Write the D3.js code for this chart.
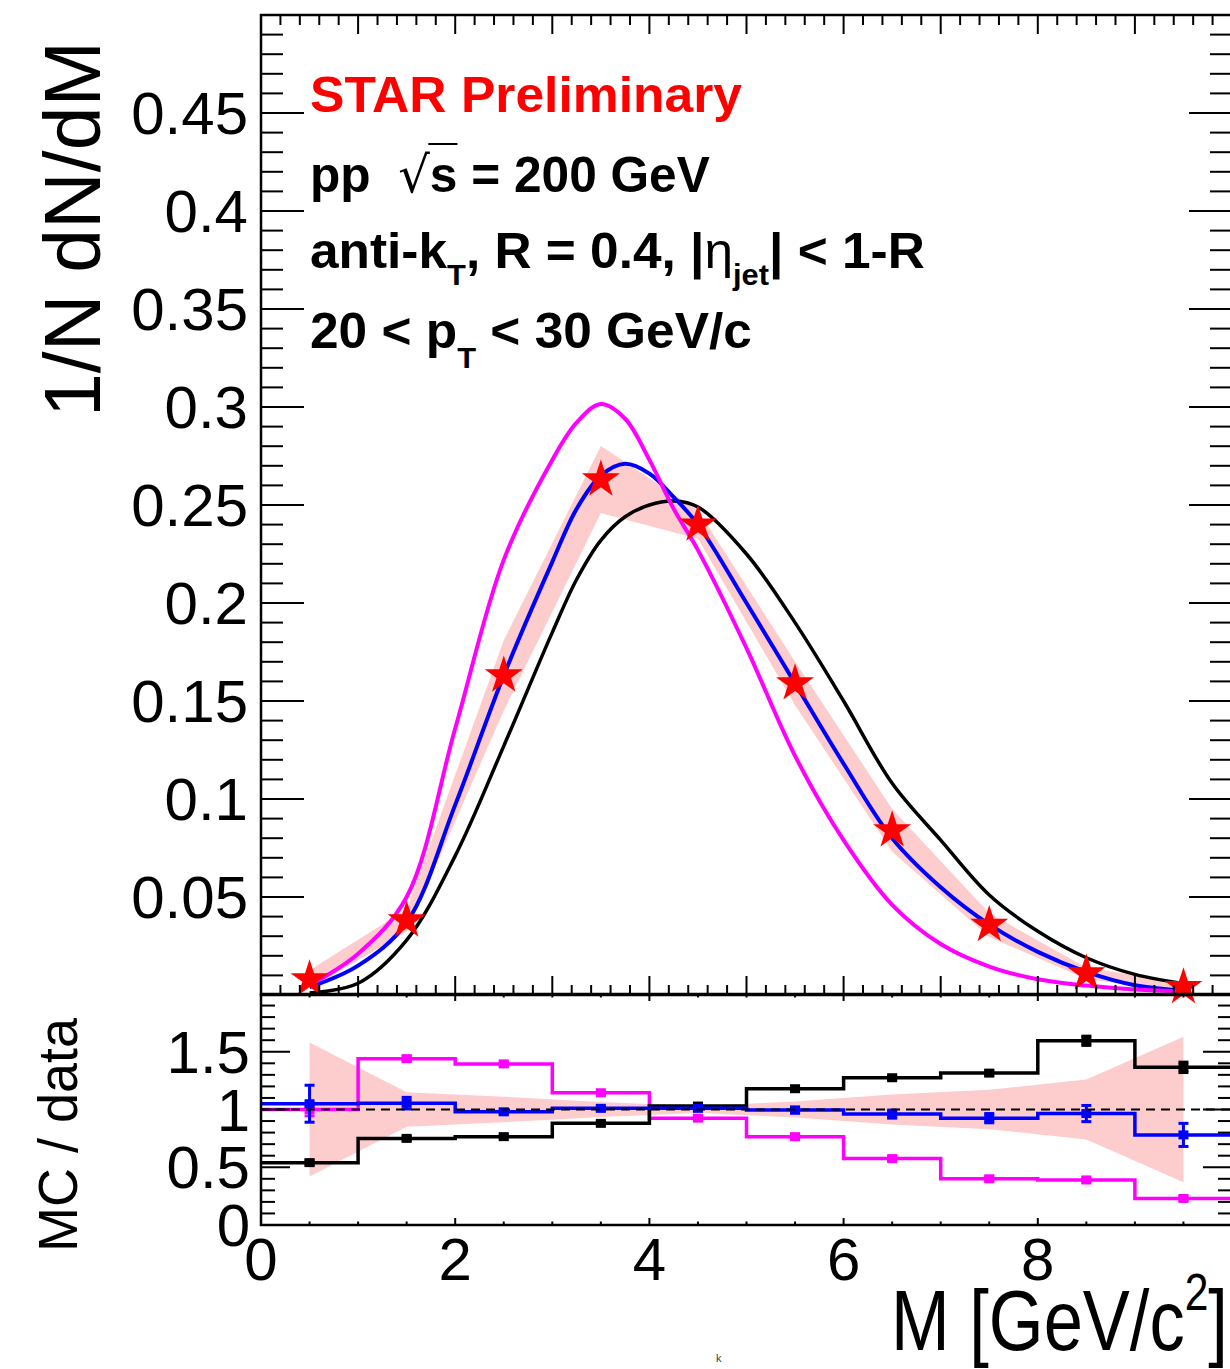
<!DOCTYPE html>
<html>
<head>
<meta charset="utf-8">
<script src="https://cdn.jsdelivr.net/npm/d3@7"></script>
<style>
  body { margin: 0; background: #fff; }
  text { font-family: "Liberation Sans", Arial, Helvetica, sans-serif; }
</style>
</head>
<body>
<svg id="chart"></svg>
<script>
// ---- data ----
const binEdges = [0, 1, 2, 3, 4, 5, 6, 7, 8, 9, 10];
const massCenters = [0.5, 1.5, 2.5, 3.5, 4.5, 5.5, 6.5, 7.5, 8.5, 9.5];
const dataY = [0.008, 0.038, 0.163, 0.263, 0.240, 0.159, 0.084, 0.0357, 0.011, 0.004];
const sysRel = [0.58, 0.15, 0.11, 0.065, 0.03, 0.07, 0.13, 0.17, 0.26, 0.63];

const curveX = [0.5, 1, 1.5, 2, 2.5, 3, 3.25, 3.5, 3.75, 4, 4.25, 4.5, 5, 5.5, 6, 6.5, 7, 7.5, 8, 8.5, 9, 9.55];
const magentaCurve = [0.005, 0.021, 0.050, 0.136, 0.222, 0.273, 0.292, 0.3015, 0.294, 0.273, 0.248, 0.227, 0.177, 0.122, 0.079, 0.046, 0.026, 0.0145, 0.008, 0.0048, 0.0028, 0.0018];
const blueCurve = [0.004, 0.015, 0.037, 0.097, 0.163, 0.221, 0.248, 0.265, 0.271, 0.266, 0.254, 0.240, 0.200, 0.159, 0.118, 0.080, 0.055, 0.036, 0.022, 0.0118, 0.005, 0.002];
const blackCurve = [0.001, 0.006, 0.028, 0.071, 0.127, 0.185, 0.212, 0.232, 0.244, 0.250, 0.252, 0.249, 0.225, 0.190, 0.150, 0.108, 0.079, 0.051, 0.0325, 0.019, 0.0105, 0.0055];

const ratioMagenta = [1.0, 1.44, 1.395, 1.145, 0.925, 0.765, 0.575, 0.40, 0.39, 0.23];
const ratioBlack = [0.54, 0.75, 0.765, 0.88, 1.03, 1.18, 1.275, 1.315, 1.595, 1.365];
const ratioBlue = [1.05, 1.055, 0.98, 1.01, 1.01, 0.995, 0.96, 0.925, 0.965, 0.78];
const errMagenta = [0.055, 0.02, 0.015, 0.01, 0.01, 0.01, 0.012, 0.015, 0.015, 0.015];
const errBlack = [0.02, 0.015, 0.012, 0.012, 0.012, 0.012, 0.015, 0.02, 0.04, 0.045];
const errBlue = [0.16, 0.05, 0.02, 0.015, 0.015, 0.025, 0.035, 0.04, 0.07, 0.1];

const yTopTicks = [0.05, 0.1, 0.15, 0.2, 0.25, 0.3, 0.35, 0.4, 0.45];
const yTopLabels = ["0.05", "0.1", "0.15", "0.2", "0.25", "0.3", "0.35", "0.4", "0.45"];
const yRatTicks = [0, 0.5, 1, 1.5];
const yRatLabels = ["0", "0.5", "1", "1.5"];
const xTicks = [0, 2, 4, 6, 8];
const xLabels = ["0", "2", "4", "6", "8"];

// ---- setup ----
const W = 1230, H = 1369;
const svg = d3.select("#chart").attr("width", W).attr("height", H);
svg.append("rect").attr("width", W).attr("height", H).attr("fill", "#fff");

const x = d3.scaleLinear().domain([0, 10]).range([261, 1232]);
const yTop = d3.scaleLinear().domain([0, 0.5]).range([995, 15]);
const yRat = d3.scaleLinear().domain([0, 2]).range([1225, 994]);

const bandColor = "#fdcccc";
const magenta = "#ff00ff", blue = "#0000ff", black = "#000000";

// ---- top panel ----
const topG = svg.append("g");

const pts = massCenters.map((m, i) => ({ m, v: dataY[i], r: sysRel[i] }));
topG.append("path")
  .datum(pts)
  .attr("d", d3.area()
    .x(d => x(d.m))
    .y0(d => yTop(d.v * (1 - d.r)))
    .y1(d => yTop(d.v * (1 + d.r))))
  .attr("fill", bandColor);

const curveLine = d3.line()
  .x((d, i) => x(curveX[i]))
  .y(d => yTop(d))
  .curve(d3.curveCatmullRom.alpha(0.5));

[[blackCurve, black, 3.5], [blueCurve, blue, 4], [magentaCurve, magenta, 4]].forEach(([ys, col, w]) => {
  topG.append("path")
    .datum(ys)
    .attr("d", curveLine)
    .attr("fill", "none")
    .attr("stroke", col)
    .attr("stroke-width", w)
    .attr("stroke-linejoin", "round");
});

topG.selectAll(".star")
  .data(pts)
  .join("path")
  .attr("class", "star")
  .attr("d", d3.symbol(d3.symbolStar, 449))
  .attr("transform", d => `translate(${x(d.m)},${yTop(d.v)})`)
  .attr("fill", "#ff0000");

// ---- ratio panel ----
const ratG = svg.append("g");

ratG.append("path")
  .datum(massCenters.map((m, i) => ({ m, r: sysRel[i] })))
  .attr("d", d3.area()
    .x(d => x(d.m))
    .y0(d => yRat(1 - d.r))
    .y1(d => yRat(1 + d.r)))
  .attr("fill", bandColor);

const stepLine = d3.line()
  .x(d => x(d[0]))
  .y(d => yRat(d[1]))
  .curve(d3.curveStepAfter);

const ratioSeries = [
  [ratioMagenta, errMagenta, magenta],
  [ratioBlack, errBlack, black],
  [ratioBlue, errBlue, blue]
];

ratioSeries.forEach(([vals, errs, col]) => {
  const steps = binEdges.map((e, i) => [e, vals[Math.min(i, vals.length - 1)]]);
  ratG.append("path")
    .datum(steps)
    .attr("d", stepLine)
    .attr("fill", "none")
    .attr("stroke", col)
    .attr("stroke-width", 3.5);

  const g = ratG.append("g").attr("stroke", col).attr("stroke-width", 3);
  massCenters.forEach((m, i) => {
    const cx = x(m), lo = yRat(vals[i] - errs[i]), hi = yRat(vals[i] + errs[i]);
    g.append("line").attr("x1", cx).attr("x2", cx).attr("y1", lo).attr("y2", hi);
    g.append("line").attr("x1", cx - 5).attr("x2", cx + 5).attr("y1", lo).attr("y2", lo);
    g.append("line").attr("x1", cx - 5).attr("x2", cx + 5).attr("y1", hi).attr("y2", hi);
  });
  ratG.selectAll(null)
    .data(massCenters.map((m, i) => [m, vals[i]]))
    .join("rect")
    .attr("x", d => x(d[0]) - 5)
    .attr("y", d => yRat(d[1]) - 4.5)
    .attr("width", 10)
    .attr("height", 9)
    .attr("fill", col);
});

ratG.append("line")
  .attr("x1", x(0)).attr("x2", x(10))
  .attr("y1", yRat(1)).attr("y2", yRat(1))
  .attr("stroke", black)
  .attr("stroke-width", 2)
  .attr("stroke-dasharray", "9,6");

// ---- frames and ticks ----
const axes = svg.append("g").attr("stroke", "#000").attr("stroke-width", 2).attr("fill", "none");

function frame(yScale) {
  const [y0, y1] = yScale.range();
  axes.append("rect")
    .attr("x", x(0)).attr("y", y1)
    .attr("width", x(10) - x(0)).attr("height", y0 - y1)
    .attr("stroke-width", 2.5);
}
frame(yTop);
frame(yRat);

function isMult(v, step) {
  return Math.abs(v / step - Math.round(v / step)) < 1e-6;
}

// top panel ticks
d3.range(0, 0.5001, 0.01).forEach(v => {
  const len = isMult(v, 0.05) ? 43 : 22;
  const yy = yTop(v);
  axes.append("line").attr("x1", x(0)).attr("x2", x(0) + len).attr("y1", yy).attr("y2", yy);
  axes.append("line").attr("x1", x(10)).attr("x2", x(10) - len).attr("y1", yy).attr("y2", yy);
});
d3.range(0, 10.001, 0.2).forEach(u => {
  const len = isMult(u, 1) ? 19 : 10;
  const xx = x(u);
  axes.append("line").attr("x1", xx).attr("x2", xx).attr("y1", yTop(0)).attr("y2", yTop(0) - len);
  axes.append("line").attr("x1", xx).attr("x2", xx).attr("y1", yTop(0.5)).attr("y2", yTop(0.5) + len);
});

// ratio panel ticks
d3.range(0, 2.0001, 0.1).forEach(v => {
  const len = isMult(v, 0.5) ? 29 : 14;
  const yy = yRat(v);
  axes.append("line").attr("x1", x(0)).attr("x2", x(0) + len).attr("y1", yy).attr("y2", yy);
  axes.append("line").attr("x1", x(10)).attr("x2", x(10) - len).attr("y1", yy).attr("y2", yy);
});
d3.range(0, 10.001, 0.5).forEach(u => {
  const len = isMult(u, 2) ? 7 : 3.5;
  const xx = x(u);
  axes.append("line").attr("x1", xx).attr("x2", xx).attr("y1", yRat(0)).attr("y2", yRat(0) - len);
  axes.append("line").attr("x1", xx).attr("x2", xx).attr("y1", yRat(2)).attr("y2", yRat(2) + len);
});

// ---- tick labels ----
const labels = svg.append("g").attr("font-size", 60).attr("fill", "#000");

labels.selectAll(null)
  .data(yTopTicks)
  .join("text")
  .attr("x", 248)
  .attr("y", d => yTop(d) + 21)
  .attr("text-anchor", "end")
  .text((d, i) => yTopLabels[i]);

labels.selectAll(null)
  .data(yRatTicks)
  .join("text")
  .attr("x", 250)
  .attr("y", d => yRat(d) + 21)
  .attr("text-anchor", "end")
  .text((d, i) => yRatLabels[i]);

labels.selectAll(null)
  .data(xTicks)
  .join("text")
  .attr("x", d => x(d))
  .attr("y", 1280)
  .attr("text-anchor", "middle")
  .text((d, i) => xLabels[i]);

// ---- axis titles ----
function rotatedTitle(str, size, bx, topY, targetLen) {
  const g = svg.append("g");
  const t = g.append("text").attr("font-size", size).attr("text-anchor", "end").text(str);
  const w = t.node().getComputedTextLength();
  g.attr("transform", `translate(${bx},${topY}) rotate(-90) scale(${targetLen / w},1)`);
}
rotatedTitle("1/N dN/dM", 80, 100, 41, 376);
rotatedTitle("MC / data", 56, 77, 1018, 234);

(function () {
  const g = svg.append("g");
  const t = g.append("text").attr("font-size", 86).style("white-space", "pre");
  t.append("tspan").text("M [GeV/c");
  t.append("tspan").text("2").attr("font-size", 52).attr("dy", -40);
  t.append("tspan").text("]").attr("dy", 40);
  const w = t.node().getComputedTextLength();
  const target = 337;
  g.attr("transform", `translate(${1228 - target},1350) scale(${target / w},1)`);
})();

// ---- text block ----
function richLine(x0, base, parts, targetW, color) {
  const g = svg.append("g");
  const t = g.append("text")
    .style("white-space", "pre")
    .attr("font-size", 50)
    .attr("font-weight", "bold")
    .attr("fill", color || "#000");
  parts.forEach(p => {
    const s = t.append("tspan").text(p.t);
    if (p.s) s.attr("font-size", p.s);
    if (p.w) s.attr("font-weight", p.w);
    if (p.f) s.attr("font-family", p.f);
    if (p.dy) s.attr("dy", p.dy);
  });
  const w = t.node().getComputedTextLength();
  g.attr("transform", `translate(${x0},${base}) scale(${targetW / w},1)`);
  return { g, t };
}

richLine(310, 112, [{ t: "STAR Preliminary" }], 432, "#ff0000");

const l2 = richLine(310, 192, [
  { t: "pp  " },
  { t: "\u221A", w: "normal", f: "DejaVu Sans" },
  { t: "s" },
  { t: " = 200 GeV" }
], 400);
(function () {
  const node = l2.t.node();
  const sq = 4, sIdx = 5;
  const xa = node.getEndPositionOfChar(sq).x - 1.5;
  const xb = node.getEndPositionOfChar(sIdx).x;
  l2.g.append("line")
    .attr("x1", xa).attr("x2", xb)
    .attr("y1", -48).attr("y2", -48)
    .attr("stroke", "#000").attr("stroke-width", 2);
})();

richLine(310, 268, [
  { t: "anti-k" },
  { t: "T", s: 30, dy: 17 },
  { t: ", R = 0.4, |", dy: -17 },
  { t: "\u03B7", w: "normal" },
  { t: "jet", s: 30, dy: 17 },
  { t: "| < 1-R", dy: -17 }
], 615);

richLine(310, 348, [
  { t: "20 < p" },
  { t: "T", s: 30, dy: 20 },
  { t: " < 30 GeV/c", dy: -20 }
], 442);

// stray mark near the bottom edge
svg.append("text")
  .attr("x", 716).attr("y", 1362)
  .attr("font-size", 11)
  .attr("fill", "#444")
  .text("k");
</script>
</body>
</html>
